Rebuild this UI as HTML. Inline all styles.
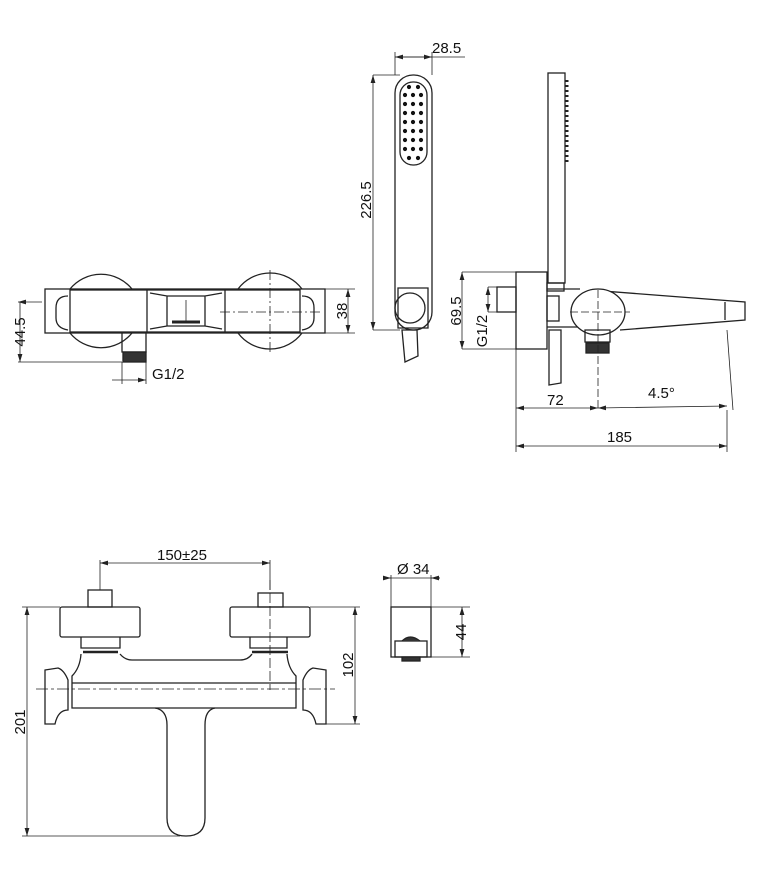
<!DOCTYPE html>
<html><head><meta charset="utf-8"><style>
html,body{margin:0;padding:0;background:#fff}
svg{display:block}
text{font-family:"Liberation Sans",sans-serif;font-size:15px;fill:#111}
</style></head><body>
<svg width="773" height="883" viewBox="0 0 773 883" xmlns="http://www.w3.org/2000/svg">
<defs>
<marker id="a" viewBox="0 0 10 6" refX="10" refY="3" markerWidth="10" markerHeight="6" orient="auto-start-reverse"><path d="M0,0 L10,3 L0,6 z" fill="#222"/></marker>
</defs>
<g fill="none" stroke="#222" stroke-width="1.3">
<!-- TOP VIEW -->
<path d="M70,289 A40,40 0 0 1 132,289 M70,333 A40,40 0 0 0 132,333"/>
<path d="M238,289 A40,40 0 0 1 302,289 M238,333 A40,40 0 0 0 302,333"/>
<rect x="45" y="289" width="280" height="44"/>
<rect x="70" y="290" width="230" height="42"/>
<path d="M68,296 Q56,296 56,308 L56,318 Q56,328 68,330"/>
<path d="M302,296 Q314,296 314,308 L314,318 Q314,328 302,330"/>
<path d="M147,290 L147,332 M225,290 L225,332 M150,293 L167,296 L205,296 L222,293 M150,329 L167,326 L205,326 L222,329 M167,296 L167,326 M205,296 L205,326"/>
<path d="M172,322 L200,322" stroke-width="3"/>
<path d="M186,300 L186,322" stroke-width="0.8"/>
<path d="M122,333 L122,352 L146,352 L146,333"/>
<rect x="123" y="352" width="23" height="10" fill="#333"/>
<path d="M220,312 L320,312 M270,270 L270,355" stroke-dasharray="10,3,2,3" stroke-width="0.8"/>
<g stroke-width="0.8">
<path d="M18,302 L42,302 M18,362 L122,362 M20,302 L20,362" marker-start="url(#a)" marker-end="url(#a)"/>
<path d="M325,289 L355,289 M325,333 L355,333"/>
<path d="M348,289 L348,333" marker-start="url(#a)" marker-end="url(#a)"/>
<path d="M122,362 L122,384 M146,362 L146,384"/>
<path d="M112,380 L146,380" marker-end="url(#a)"/>
</g>
<!-- HAND SHOWER -->
<rect x="395" y="75" width="37" height="255" rx="18"/>
<rect x="400" y="82" width="27" height="83" rx="13"/>
<path d="M398,288 L428,288 L428,328 L398,328 z"/>
<circle cx="410" cy="308" r="15"/>
<path d="M402,330 L417,330 L418,356 L405,362 z"/>
<g stroke-width="0.8">
<path d="M373,75 L400,75 M373,330 L400,330"/>
<path d="M373,75 L373,330" marker-start="url(#a)" marker-end="url(#a)"/>
<path d="M395,52 L395,75 M432,52 L432,75 M395,57 L465,57"/>
<path d="M395,57 L432,57" marker-start="url(#a)" marker-end="url(#a)"/>
</g>
<!-- SIDE VIEW -->
<rect x="548" y="73" width="17" height="210"/>
<path d="M567,80 L567,162" stroke-width="3" stroke-dasharray="2,3"/>
<rect x="516" y="272" width="31" height="77"/>
<rect x="497" y="287" width="19" height="25"/>
<rect x="547" y="283" width="17" height="8"/>
<path d="M547,289 L580,289 M547,327 L580,327"/>
<rect x="547" y="296" width="12" height="25"/>
<path d="M549,330 L561,330 L561,383 L549,385 z"/>
<path d="M590,290 L745,302 L745,320 L620,330"/>
<path d="M725,302 L725,320"/>
<ellipse cx="598" cy="312" rx="27" ry="23" fill="#fff"/>
<path d="M585,330 L610,330 L610,342 L585,342 z"/>
<rect x="586" y="343" width="23" height="10" fill="#333"/>
<path d="M570,312 L630,312 M598,290 L598,410" stroke-dasharray="8,3" stroke-width="0.8"/>
<g stroke-width="0.8">
<path d="M462,272 L516,272 M462,349 L516,349 M488,287 L497,287 M488,312 L497,312"/>
<path d="M462,272 L462,349" marker-start="url(#a)" marker-end="url(#a)"/>
<path d="M488,287 L488,312" marker-start="url(#a)" marker-end="url(#a)"/>
<path d="M516,349 L516,452 M727,330 L733,410 M727,410 L727,452"/>
<path d="M516,408 L598,408" marker-start="url(#a)" marker-end="url(#a)"/>
<path d="M598,408 L727,406" marker-start="url(#a)" marker-end="url(#a)"/>
<path d="M516,446 L727,446" marker-start="url(#a)" marker-end="url(#a)"/>
</g>
<!-- FRONT VIEW -->
<rect x="60" y="607" width="80" height="30" rx="2"/>
<rect x="230" y="607" width="80" height="30" rx="2"/>
<rect x="88" y="590" width="24" height="17"/>
<rect x="258" y="593" width="25" height="14"/>
<path d="M81,637 L81,648 L120,648 L120,637 M250,637 L250,648 L287,648 L287,637"/>
<path d="M83,652 L118,652 M252,652 L288,652" stroke-width="2.5"/>
<path d="M81,654 Q80,668 72,676 L72,708 L296,708 L296,676 Q288,668 287,654"/>
<path d="M120,654 Q125,660 132,660 L240,660 Q248,660 252,654"/>
<path d="M72,683 L296,683"/>
<path d="M45,670 L58,668 Q64,670 68,680 L68,710 Q58,710 55,724 L45,724 z"/>
<path d="M326,670 L313,668 Q307,670 303,680 L303,710 Q313,710 316,724 L326,724 z"/>
<path d="M155,708 Q167,710 167,725 L167,818 Q167,836 186,836 Q205,836 205,818 L205,725 Q205,710 215,708"/>
<path d="M36,689 L335,689" stroke-dasharray="12,3,3,3" stroke-width="0.8"/>
<path d="M270,580 L270,690" stroke-dasharray="10,3" stroke-width="0.8"/>
<g stroke-width="0.8">
<path d="M100,560 L100,590 M270,560 L270,590"/>
<path d="M100,563 L270,563" marker-start="url(#a)" marker-end="url(#a)"/>
<path d="M22,607 L60,607 M22,836 L180,836 M310,607 L360,607 M326,724 L360,724"/>
<path d="M27,607 L27,836" marker-start="url(#a)" marker-end="url(#a)"/>
<path d="M355,607 L355,724" marker-start="url(#a)" marker-end="url(#a)"/>
</g>
<!-- SMALL BLOCK -->
<rect x="391" y="607" width="40" height="50"/>
<rect x="395" y="641" width="32" height="16"/>
<path d="M402,641 Q410,633 420,641" fill="#333"/>
<rect x="402" y="657" width="18" height="4" fill="#333"/>
<g stroke-width="0.8">
<path d="M391,575 L391,607 M431,575 L431,607 M431,607 L470,607 M431,657 L470,657"/>
<path d="M383,578 L440,578"/>
<path d="M383,578 L391,578" marker-end="url(#a)"/>
<path d="M440,578 L431,578" marker-end="url(#a)"/>
<path d="M462,607 L462,657" marker-start="url(#a)" marker-end="url(#a)"/>
</g>
</g>
<!-- dots -->
<g fill="#111">
<circle cx="409" cy="87" r="2.1"/><circle cx="418" cy="87" r="2.1"/>
<circle cx="405" cy="95" r="2.1"/><circle cx="413" cy="95" r="2.1"/><circle cx="421" cy="95" r="2.1"/>
<circle cx="405" cy="104" r="2.1"/><circle cx="413" cy="104" r="2.1"/><circle cx="421" cy="104" r="2.1"/>
<circle cx="405" cy="113" r="2.1"/><circle cx="413" cy="113" r="2.1"/><circle cx="421" cy="113" r="2.1"/>
<circle cx="405" cy="122" r="2.1"/><circle cx="413" cy="122" r="2.1"/><circle cx="421" cy="122" r="2.1"/>
<circle cx="405" cy="131" r="2.1"/><circle cx="413" cy="131" r="2.1"/><circle cx="421" cy="131" r="2.1"/>
<circle cx="405" cy="140" r="2.1"/><circle cx="413" cy="140" r="2.1"/><circle cx="421" cy="140" r="2.1"/>
<circle cx="405" cy="149" r="2.1"/><circle cx="413" cy="149" r="2.1"/><circle cx="421" cy="149" r="2.1"/>
<circle cx="409" cy="158" r="2.1"/><circle cx="418" cy="158" r="2.1"/>
</g>
<!-- labels -->
<text x="152" y="379">G1/2</text>
<text transform="translate(25,332) rotate(-90)" text-anchor="middle">44.5</text>
<text transform="translate(347,311) rotate(-90)" text-anchor="middle">38</text>
<text transform="translate(371,200) rotate(-90)" text-anchor="middle">226.5</text>
<text x="432" y="53">28.5</text>
<text transform="translate(461,311) rotate(-90)" text-anchor="middle">69.5</text>
<text transform="translate(487,331) rotate(-90)" text-anchor="middle">G1/2</text>
<text x="547" y="405">72</text>
<text x="648" y="398">4.5°</text>
<text x="607" y="442">185</text>
<text x="157" y="560">150±25</text>
<text transform="translate(25,722) rotate(-90)" text-anchor="middle">201</text>
<text transform="translate(353,665) rotate(-90)" text-anchor="middle">102</text>
<text x="397" y="574">Ø 34</text>
<text transform="translate(466,632) rotate(-90)" text-anchor="middle">44</text>
</svg>
</body></html>
